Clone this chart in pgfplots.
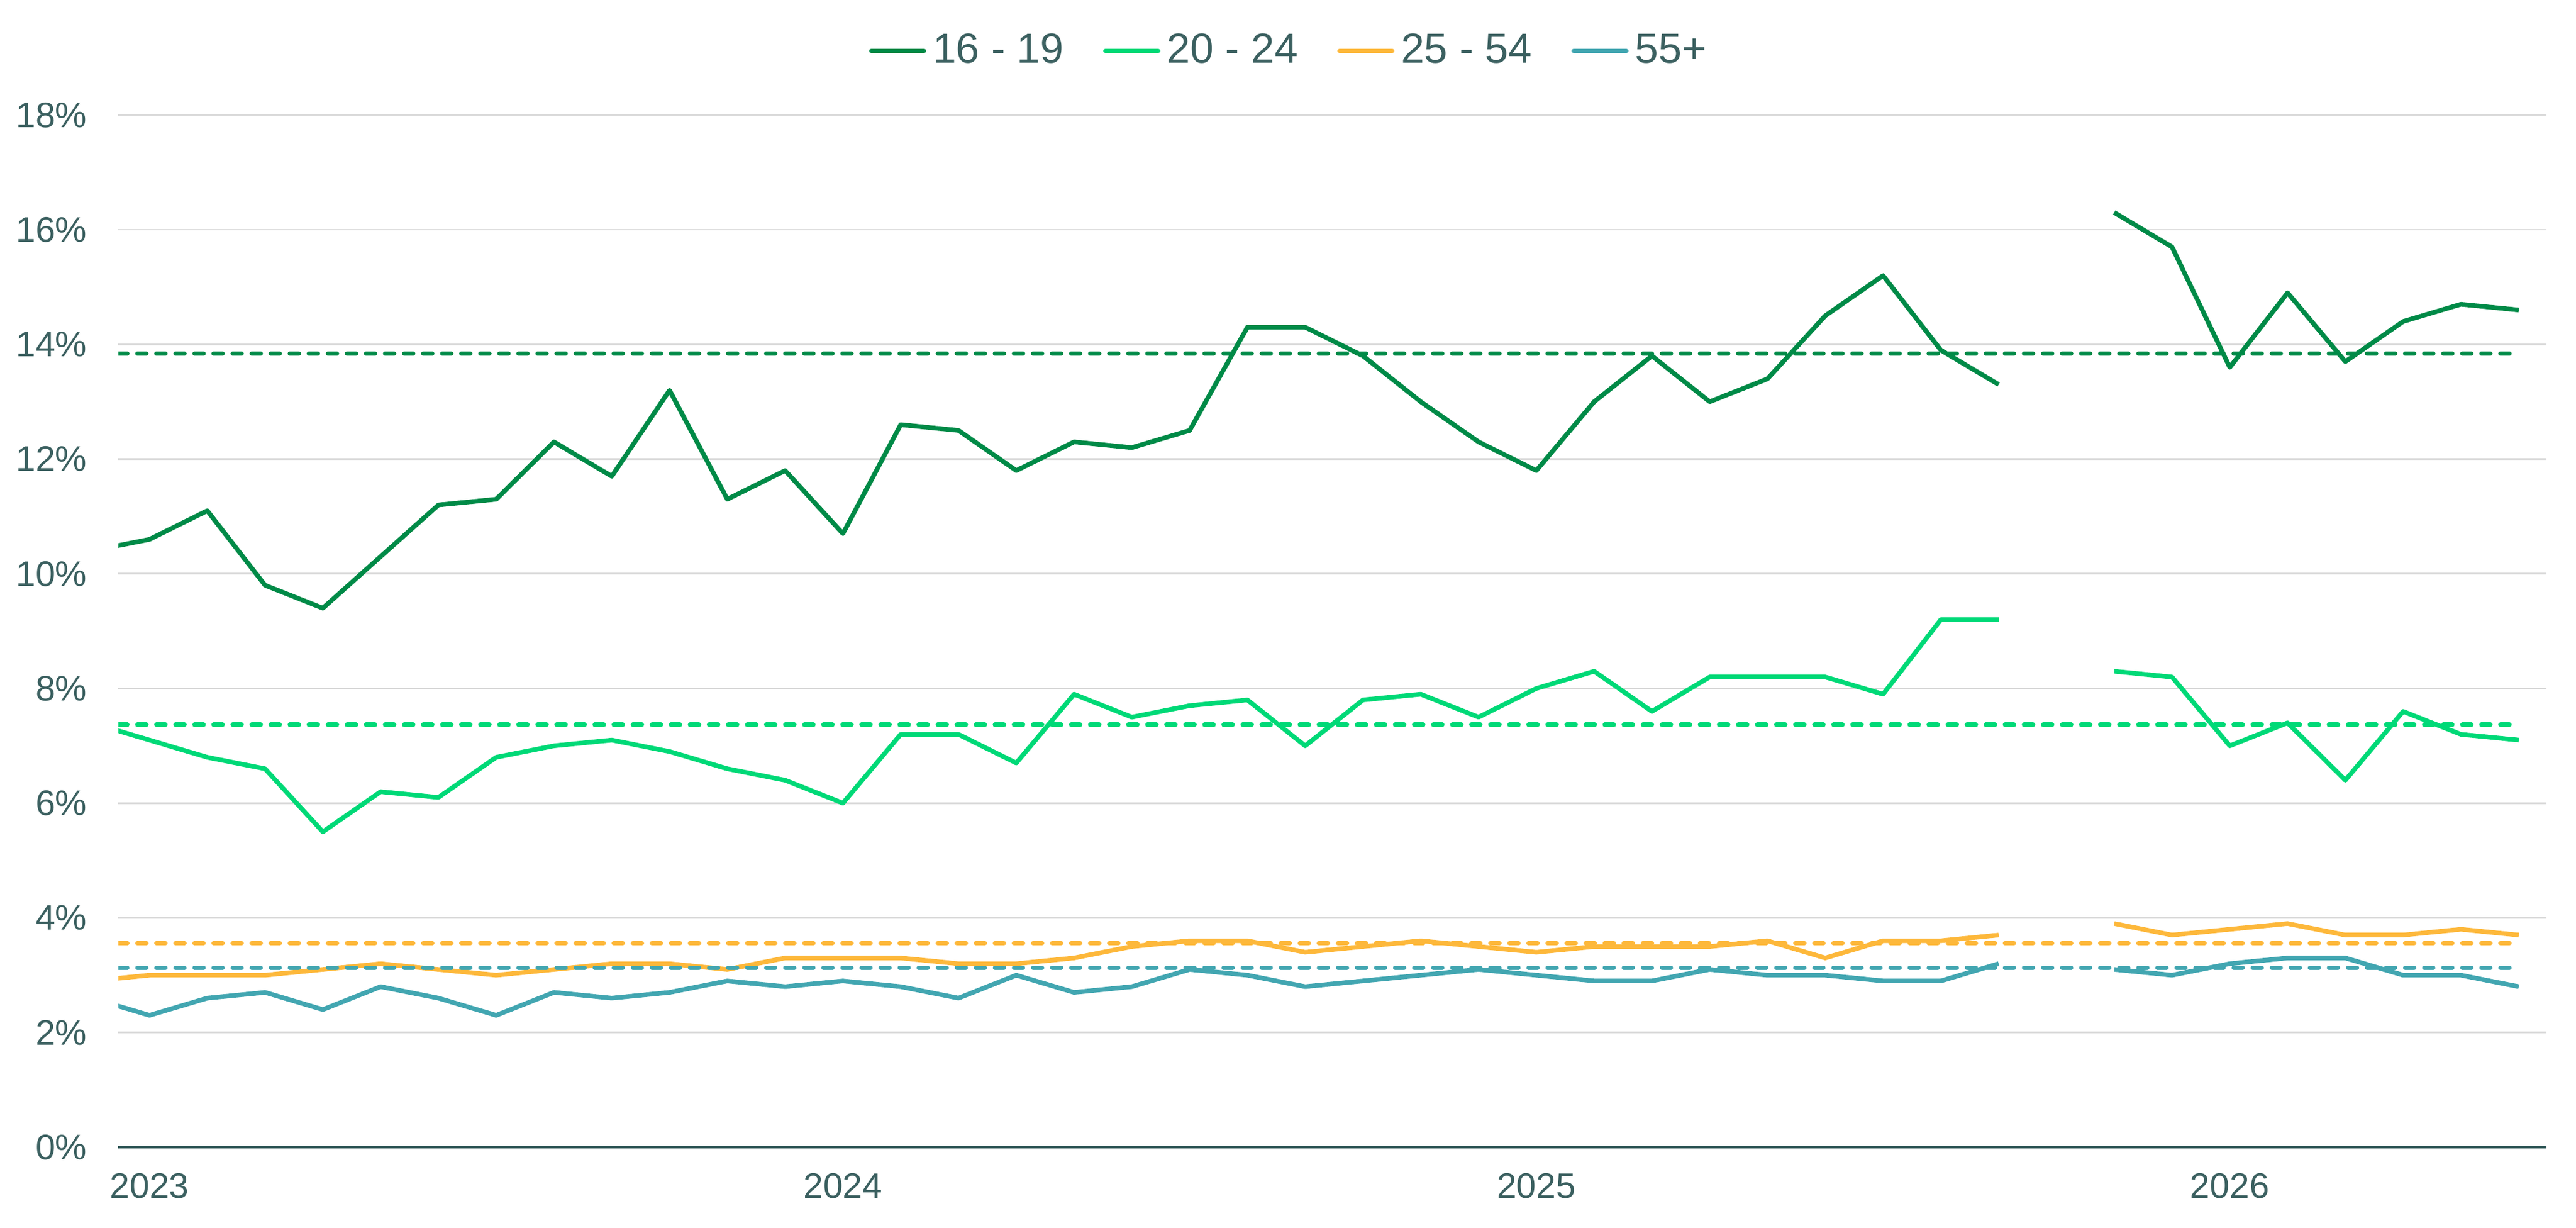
\documentclass[border=0pt]{standalone}
\usepackage{fontspec}
\setmainfont{Liberation Sans}
\usepackage{pgfplots}
\pgfplotsset{compat=1.18}
\definecolor{c1}{HTML}{008A47}
\definecolor{c2}{HTML}{00D977}
\definecolor{c3}{HTML}{FDB83B}
\definecolor{c4}{HTML}{42A6B1}
\definecolor{txt}{HTML}{3B6060}
\definecolor{grd}{HTML}{D9D9D9}
\begin{document}
\begin{tikzpicture}
\useasboundingbox (-36pt,-24.5pt) rectangle (748pt,349pt);
\begin{axis}[
 at={(0pt,0pt)}, anchor=south west,
 scale only axis, width=739pt, height=314pt,
 xmin=-0.54, xmax=41.48, ymin=0, ymax=18,
 axis x line*=bottom, axis y line*=left,
 axis line style={-},
 x axis line style={draw=txt, line width=0.6pt},
 y axis line style={draw=none},
 major tick length=0pt,
 ytick={0,2,...,18},
 xtick={0,12,24,36}, xticklabels={2023,2024,2025,2026},
 yticklabel={\pgfmathprintnumber{\tick}\%},
 ymajorgrids, grid style={grd, line width=0.5pt},
 tick label style={font=\fontsize{10.8}{12}\selectfont, text=txt},
 /pgf/number format/assume math mode=true,
 xticklabel style={yshift=-4.5pt},
 yticklabel style={xshift=-6pt},
 unbounded coords=jump,
 legend style={at={(0.483,1)}, anchor=center, yshift=19.5pt, draw=none, fill=none,
   legend columns=4, font=\fontsize{12.8}{14}\selectfont, text=txt,
   /tikz/every even column/.append style={column sep=10pt}},
 legend cell align=left,
 legend image code/.code={\draw[#1, line cap=round, solid] (0pt,0pt) -- (16pt,0pt);},
]
% series
\addplot[c1, line width=1.4pt, line join=round] coordinates {
(-1,10.4)(0,10.6)(1,11.1)(2,9.8)(3,9.4)(4,10.3)(5,11.2)(6,11.3)(7,12.3)(8,11.7)(9,13.2)(10,11.3)(11,11.8)(12,10.7)(13,12.6)(14,12.5)(15,11.8)(16,12.3)(17,12.2)(18,12.5)(19,14.3)(20,14.3)(21,13.8)(22,13.0)(23,12.3)(24,11.8)(25,13.0)(26,13.8)(27,13.0)(28,13.4)(29,14.5)(30,15.2)(31,13.9)(32,13.3)(33,nan)(34,16.3)(35,15.7)(36,13.6)(37,14.9)(38,13.7)(39,14.4)(40,14.7)(41,14.6)};
\addlegendentry{16 - 19}
\addplot[c2, line width=1.4pt, line join=round] coordinates {
(-1,7.4)(0,7.1)(1,6.8)(2,6.6)(3,5.5)(4,6.2)(5,6.1)(6,6.8)(7,7.0)(8,7.1)(9,6.9)(10,6.6)(11,6.4)(12,6.0)(13,7.2)(14,7.2)(15,6.7)(16,7.9)(17,7.5)(18,7.7)(19,7.8)(20,7.0)(21,7.8)(22,7.9)(23,7.5)(24,8.0)(25,8.3)(26,7.6)(27,8.2)(28,8.2)(29,8.2)(30,7.9)(31,9.2)(32,9.2)(33,nan)(34,8.3)(35,8.2)(36,7.0)(37,7.4)(38,6.4)(39,7.6)(40,7.2)(41,7.1)};
\addlegendentry{20 - 24}
\addplot[c3, line width=1.4pt, line join=round] coordinates {
(-1,2.9)(0,3.0)(1,3.0)(2,3.0)(3,3.1)(4,3.2)(5,3.1)(6,3.0)(7,3.1)(8,3.2)(9,3.2)(10,3.1)(11,3.3)(12,3.3)(13,3.3)(14,3.2)(15,3.2)(16,3.3)(17,3.5)(18,3.6)(19,3.6)(20,3.4)(21,3.5)(22,3.6)(23,3.5)(24,3.4)(25,3.5)(26,3.5)(27,3.5)(28,3.6)(29,3.3)(30,3.6)(31,3.6)(32,3.7)(33,nan)(34,3.9)(35,3.7)(36,3.8)(37,3.9)(38,3.7)(39,3.7)(40,3.8)(41,3.7)};
\addlegendentry{25 - 54}
\addplot[c4, line width=1.4pt, line join=round] coordinates {
(-1,2.6)(0,2.3)(1,2.6)(2,2.7)(3,2.4)(4,2.8)(5,2.6)(6,2.3)(7,2.7)(8,2.6)(9,2.7)(10,2.9)(11,2.8)(12,2.9)(13,2.8)(14,2.6)(15,3.0)(16,2.7)(17,2.8)(18,3.1)(19,3.0)(20,2.8)(21,2.9)(22,3.0)(23,3.1)(24,3.0)(25,2.9)(26,2.9)(27,3.1)(28,3.0)(29,3.0)(30,2.9)(31,2.9)(32,3.2)(33,nan)(34,3.1)(35,3.0)(36,3.2)(37,3.3)(38,3.3)(39,3.0)(40,3.0)(41,2.8)};
\addlegendentry{55+}
% average lines
\addplot[forget plot, c1, line width=1.35pt, line cap=round, dash pattern=on 2.75pt off 3.05pt] coordinates {(-0.54,13.84) (40.95,13.84)};
\addplot[forget plot, c2, line width=1.35pt, line cap=round, dash pattern=on 2.75pt off 3.05pt] coordinates {(-0.54,7.37) (40.95,7.37)};
\addplot[forget plot, c3, line width=1.35pt, line cap=round, dash pattern=on 2.75pt off 3.05pt] coordinates {(-0.54,3.56) (40.95,3.56)};
\addplot[forget plot, c4, line width=1.35pt, line cap=round, dash pattern=on 2.75pt off 3.05pt] coordinates {(-0.54,3.13) (40.95,3.13)};
\end{axis}
\end{tikzpicture}
\end{document}
